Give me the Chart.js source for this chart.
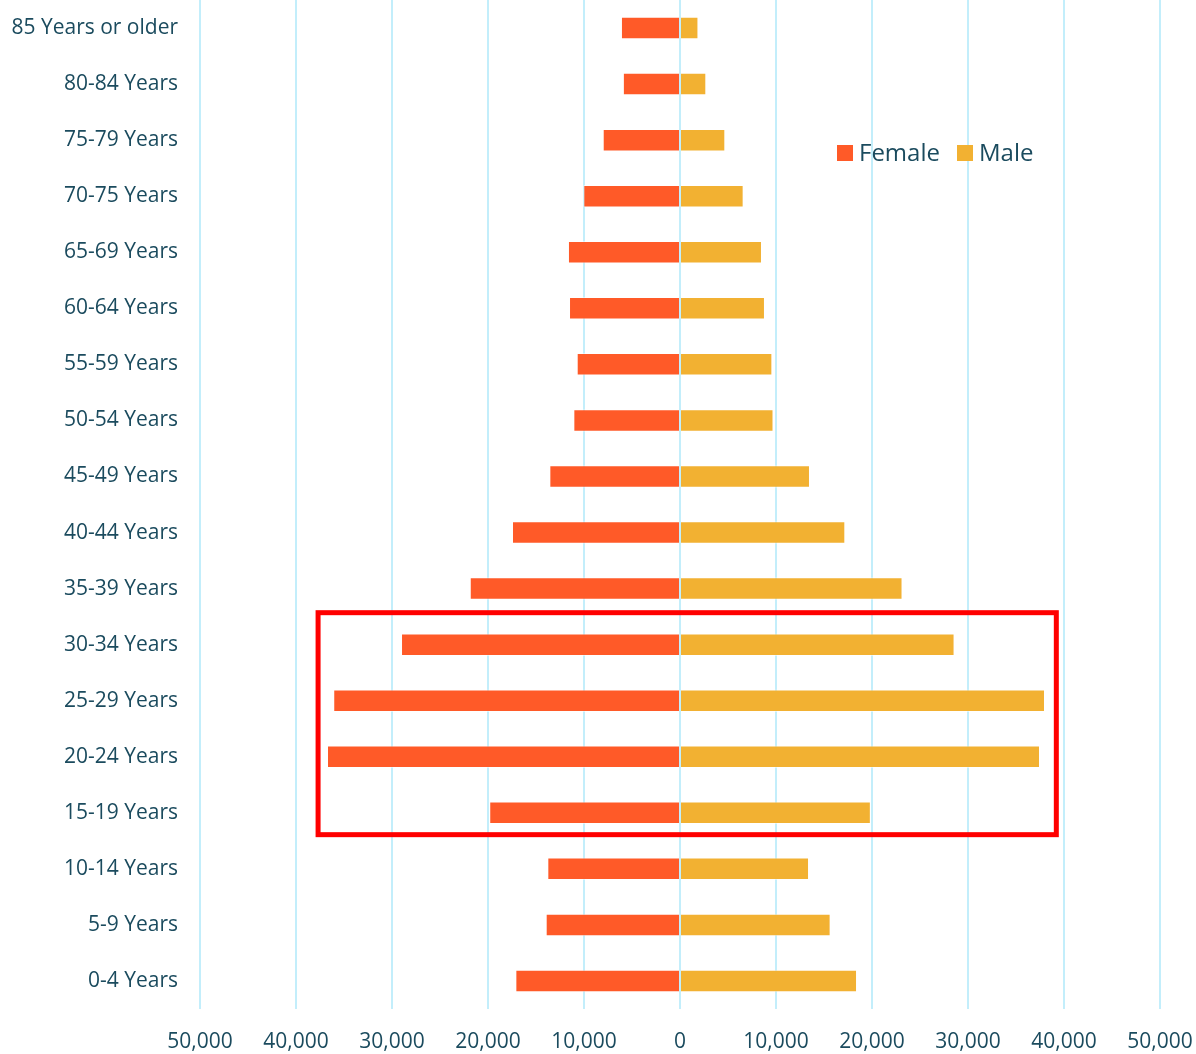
<!DOCTYPE html>
<html>
<head>
<meta charset="utf-8">
<script src="https://cdn.jsdelivr.net/npm/chart.js@4.4.1/dist/chart.umd.min.js"></script>
<style>
  html, body { margin: 0; padding: 0; background: #ffffff; }
  #wrap { width: 1196px; height: 1054px; position: relative; }
</style>
</head>
<body>
<div id="wrap"><canvas id="piramide"></canvas></div>
<script>
// Faixas etárias (de cima para baixo)
const ageGroups = [
    '85 Years or older', '80-84 Years', '75-79 Years', '70-75 Years',
    '65-69 Years', '60-64 Years', '55-59 Years', '50-54 Years',
    '45-49 Years', '40-44 Years', '35-39 Years', '30-34 Years',
    '25-29 Years', '20-24 Years', '15-19 Years', '10-14 Years',
    '5-9 Years', '0-4 Years'
];

// População feminina (valores positivos, desenhados à esquerda)
const femaleValues = [
    6150, 5950, 8050, 10070, 11670, 11560, 10760, 11110, 13610,
    17500, 21900, 29060, 36120, 36770, 19870, 13820, 13990, 17150
];

// População masculina
const maleValues = [
    1920, 2740, 4720, 6630, 8540, 8850, 9620, 9740, 13540,
    17220, 23180, 28600, 38020, 37500, 19880, 13440, 15690, 18440
];

// Eixo x
const xTicks = [-50000, -40000, -30000, -20000, -10000, 0, 10000, 20000, 30000, 40000, 50000];

// Destaque (retângulo vermelho)
const highlightGroups = ['30-34 Years', '15-19 Years'];
const highlightRange = [-37700, 39200];

const colors = {
    female: '#FF5A28',
    male: '#F2B132',
    text: '#1B4B5E',
    grid: '#C3EEFB',
    highlight: '#FF0000'
};
const fontFamily = '"Open Sans", "DejaVu Sans", sans-serif';

// Legenda dentro da área do gráfico
const legendaInterna = {
    id: 'legendaInterna',
    afterDraw(chart) {
        const ctx = chart.ctx;
        const items = [
            { x: 837, label: chart.data.datasets[0].label, color: chart.data.datasets[0].backgroundColor },
            { x: 957, label: chart.data.datasets[1].label, color: chart.data.datasets[1].backgroundColor }
        ];
        const y = 153;
        ctx.save();
        ctx.font = '24px ' + fontFamily;
        ctx.textBaseline = 'middle';
        items.forEach(item => {
            ctx.fillStyle = item.color;
            ctx.fillRect(item.x, y - 8, 16, 16);
            ctx.fillStyle = colors.text;
            ctx.fillText(item.label, item.x + 22, y + 1);
        });
        ctx.restore();
    }
};

// Retângulo de destaque
const destaque = {
    id: 'destaque',
    afterDraw(chart) {
        const xs = chart.scales.x;
        const ys = chart.scales.y;
        const band = ys.getPixelForValue(1) - ys.getPixelForValue(0);
        const top = ys.getPixelForValue(ageGroups.indexOf(highlightGroups[0])) - band * 0.57;
        const bottom = ys.getPixelForValue(ageGroups.indexOf(highlightGroups[1])) + band * 0.39;
        const left = xs.getPixelForValue(highlightRange[0]);
        const right = xs.getPixelForValue(highlightRange[1]);
        const ctx = chart.ctx;
        ctx.save();
        ctx.strokeStyle = colors.highlight;
        ctx.lineWidth = 5;
        ctx.strokeRect(left, top, right - left, bottom - top);
        ctx.restore();
    }
};

new Chart(document.getElementById('piramide').getContext('2d'), {
    type: 'bar',
    data: {
        labels: ageGroups,
        datasets: [
            {
                label: 'Female',
                data: femaleValues.map(v => -v),
                backgroundColor: colors.female,
                borderColor: 'rgba(255,255,255,0.5)',
                borderWidth: 1,
                barPercentage: 0.41,
                categoryPercentage: 0.98
            },
            {
                label: 'Male',
                data: maleValues,
                backgroundColor: colors.male,
                borderColor: 'rgba(255,255,255,0.5)',
                borderWidth: 1,
                barPercentage: 0.41,
                categoryPercentage: 0.98
            }
        ]
    },
    options: {
        indexAxis: 'y',
        responsive: true,
        maintainAspectRatio: false,
        animation: false,
        layout: { padding: { top: 0, right: 36, bottom: 3, left: 0 } },
        plugins: {
            legend: { display: false },
            tooltip: { enabled: false },
            title: { display: false }
        },
        scales: {
            x: {
                stacked: true,
                min: -50000,
                max: 50000,
                afterBuildTicks: (scale) => { scale.ticks = xTicks.map(v => ({ value: v })); },
                afterFit: (scale) => {
                    scale.height = 42;
                    scale.paddingLeft = 0;
                    scale.paddingRight = 0;
                },
                ticks: {
                    color: colors.text,
                    font: { family: fontFamily, size: 21 },
                    padding: 20,
                    maxRotation: 0,
                    callback: (value) => Math.abs(value).toLocaleString('en-US')
                },
                grid: { color: colors.grid, lineWidth: 2, drawTicks: false },
                border: { display: false }
            },
            y: {
                stacked: true,
                afterFit: (scale) => {
                    scale.width = 200;
                    scale.paddingTop = 0;
                    scale.paddingBottom = 0;
                },
                ticks: {
                    color: colors.text,
                    font: { family: fontFamily, size: 21 },
                    padding: 14
                },
                grid: { display: false },
                border: { display: false }
            }
        }
    },
    plugins: [legendaInterna, destaque]
});
</script>
</body>
</html>
